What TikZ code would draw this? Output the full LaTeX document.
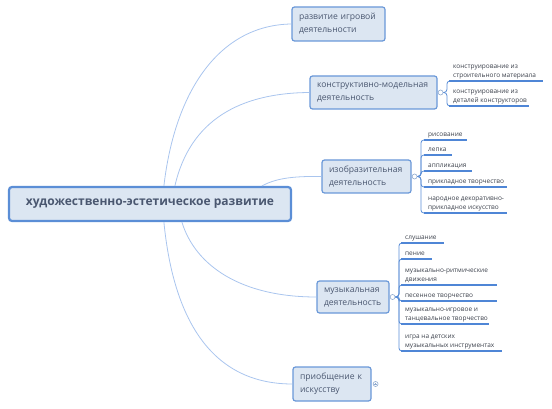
\documentclass[tikz,border=0pt]{standalone}
\usepackage{fontspec}
\newfontfamily\uifont{Open Sans}
\usetikzlibrary{calc}
\definecolor{boxfill}{HTML}{DCE6F2}
\definecolor{boxline}{HTML}{6A98D8}
\definecolor{mainline}{HTML}{5B8ED6}
\definecolor{txt}{HTML}{4A5770}
\definecolor{leaftxt}{HTML}{3A3F4A}
\definecolor{conn}{HTML}{A9C5EE}
\definecolor{ulcol}{HTML}{4F86D6}
\definecolor{knob}{HTML}{8FAACF}
\tikzset{
  x=1pt, y=-1pt,
  topic/.style={draw=boxline, fill=boxfill, line width=1.2pt, rounded corners=2.5pt,
    font=\uifont\fontsize{8.6}{13}\selectfont, text=txt, align=left, inner xsep=7pt},
  central/.style={draw=mainline, fill=boxfill, line width=2.2pt, rounded corners=3pt,
    font=\uifont\bfseries\fontsize{12}{14}\selectfont, text=txt,
    minimum width=282, minimum height=34},
  leaf/.style={anchor=south west, font=\uifont\fontsize{6.5}{9}\selectfont, text=leaftxt,
    align=left, inner xsep=4pt, inner ysep=1.5pt, text depth=1.8pt},
  knobc/.style={circle, draw=knob, fill=white, line width=0.6pt, minimum size=5pt, inner sep=0pt},
  conn/.style={draw=conn, line width=0.8pt},
  trunk/.style={draw=mainline, line width=0.8pt, rounded corners=3pt},
  uline/.style={draw=ulcol, line width=1.5pt},
}
\begin{document}
\begin{tikzpicture}
\useasboundingbox (0,0) rectangle (552,409);

% central
\node[central] (C) at (150,204) {художественно-эстетическое развитие};

% topics
\node[topic, minimum width=93, minimum height=34, text width=79] (t1) at (338.5,24) {развитие~игровой\\деятельности};
\node[topic, minimum width=127, minimum height=33, text width=113] (t2) at (373.5,92.5) {конструктивно-модельная\\деятельность};
\node[topic, minimum width=89, minimum height=33, text width=75] (t3) at (366.5,176.5) {изобразительная\\деятельность};
\node[topic, minimum width=72, minimum height=32, text width=58] (t4) at (353,297) {музыкальная\\деятельность};
\node[topic, minimum width=78, minimum height=34, text width=64] (t5) at (332,384) {приобщение~к\\искусству};

% connectors from central
\draw[conn] ($(C.north west)+(156,0)$) .. controls (175,90) and (220,25) .. (t1.west);
\draw[conn] ($(C.north west)+(167,0)$) .. controls (190,120) and (240,93) .. (t2.west);
\draw[conn] ($(C.north west)+(254,0)$) .. controls (275,179) and (290,176) .. (t3.west);
\draw[conn] ($(C.south west)+(174,0)$) .. controls (195,265) and (240,297) .. (t4.west);
\draw[conn] ($(C.south west)+(156,0)$) .. controls (174,325) and (215,384) .. (t5.west);

% knobs
\node[knobc] (k2) at ($(t2.east)+(3,0)$) {};
\node[knobc] (k3) at ($(t3.east)+(3,0)$) {};
\node[knobc] (k4) at ($(t4.east)+(3,0)$) {};
\node[knobc] (k5) at ($(t5.east)+(4,0)$) {};
\draw[draw=knob, line width=0.5pt] ($(k5.center)+(-1.4,0)$) -- ($(k5.center)+(1.4,0)$);
\draw[draw=knob, line width=0.5pt] ($(k5.center)+(0,-1.4)$) -- ($(k5.center)+(0,1.4)$);

% leaves of t2
\node[leaf] (l21) at (449,81) {конструирование из\\строительного материала};
\node[leaf] (l22) at (449,106) {конструирование из\\деталей конструкторов};

% leaves of t3
\node[leaf] (l31) at (424,140) {рисование};
\node[leaf] (l32) at (424,155) {лепка};
\node[leaf] (l33) at (424,171) {аппликация};
\node[leaf] (l34) at (424,187) {прикладное творчество};
\node[leaf] (l35) at (424,213) {народное декоративно-\\прикладное искусство};

% leaves of t4
\node[leaf] (l41) at (401,243) {слушание};
\node[leaf] (l42) at (401,259) {пение};
\node[leaf] (l43) at (401,285) {музыкально-ритмические\\движения};
\node[leaf] (l44) at (401,301) {песенное творчество};
\node[leaf] (l45) at (401,324) {музыкально-игровое и\\танцевальное творчество};
\node[leaf] (l46) at (401,351) {игра на детских\\музыкальных инструментах};

% trunks and underlines
\foreach \k/\l/\w in {k2/l21/94,k2/l22/80,k3/l31/43,k3/l32/28,k3/l33/48,k3/l34/83,k3/l35/83,k4/l41/43,k4/l42/31,k4/l43/96,k4/l44/96,k4/l45/88,k4/l46/101}{
  \draw[trunk] (\k.east) -- ++(3.5,0) |- (\l.south west);
  \draw[uline] (\l.south west) -- ++(\w,0);
}
\end{tikzpicture}
\end{document}
